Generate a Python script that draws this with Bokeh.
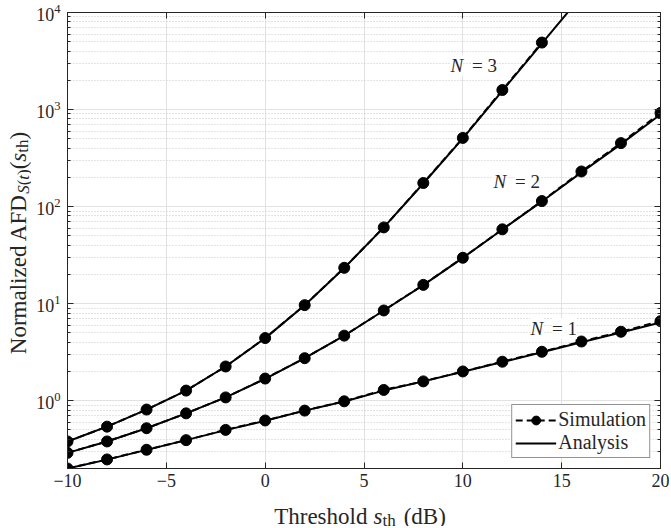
import math
from bokeh.plotting import figure
from bokeh.layouts import row, column
from bokeh.models import (Label, LogAxis, LinearAxis, FixedTicker, Legend,
                          LegendItem, Range1d, CustomJSTickFormatter, Plot)
from bokeh.embed import file_html
from bokeh.resources import INLINE

# ---------------- data ----------------
thresh_db = [-10, -8, -6, -4, -2, 0, 2, 4, 6, 8, 10, 12, 14, 16, 18, 20]

n1_analysis = [0.20, 0.247, 0.311, 0.392, 0.497, 0.62, 0.79, 0.98, 1.27, 1.58,
               1.99, 2.50, 3.15, 4.00, 5.05, 6.40]
n1_simulation = [0.20, 0.248, 0.312, 0.392, 0.50, 0.625, 0.79, 0.985, 1.29, 1.58,
                 2.00, 2.52, 3.19, 4.07, 5.13, 6.60]

n2_analysis = [0.29, 0.38, 0.52, 0.74, 1.08, 1.68, 2.74, 4.67, 8.5, 15.5,
               29.6, 58.0, 113, 225, 440, 890]
n2_simulation = [0.29, 0.38, 0.52, 0.74, 1.08, 1.69, 2.74, 4.68, 8.5, 15.6,
                 29.7, 58.3, 114, 230, 451, 922]

n3_thresh_analysis = [-10, -8, -6, -4, -2, 0, 2, 4, 6, 8, 10, 12, 14, 16]
n3_analysis = [0.38, 0.54, 0.81, 1.27, 2.25, 4.41, 9.6, 23.3, 61, 173,
               505, 1560, 4800, 14800]
n3_thresh_sim = [-10, -8, -6, -4, -2, 0, 2, 4, 6, 8, 10, 12, 14]
n3_simulation = [0.38, 0.54, 0.81, 1.27, 2.25, 4.42, 9.65, 23.4, 61, 175,
                 510, 1590, 4900]

x_ticks = [-10, -5, 0, 5, 10, 15, 20]
y_ticks = [1, 10, 100, 1000, 10000]
y_minor_ticks = [0.2, 0.3, 0.4, 0.5, 0.6, 0.7, 0.8, 0.9,
                 2, 3, 4, 5, 6, 7, 8, 9,
                 20, 30, 40, 50, 60, 70, 80, 90,
                 200, 300, 400, 500, 600, 700, 800, 900,
                 2000, 3000, 4000, 5000, 6000, 7000, 8000, 9000]

curve_names = ["N", "N", "N"]
curve_values = ["= 1", "= 2", "= 3"]

X_MIN, X_MAX = -10, 20
Y_MIN, Y_MAX = 0.2, 1e4

# ---------------- style / layout ----------------
FONT = "Liberation Serif"
INK = "#262626"
YT_W = 31                     # strip holding the y title
FRAME_L, FRAME_R, FRAME_T, FRAME_B = 67, 660, 12, 468   # page pixels
FRAME_W, FRAME_H = FRAME_R - FRAME_L, FRAME_B - FRAME_T
B_LEFT, B_RIGHT, B_TOP, B_BOTTOM = FRAME_L - YT_W, 9, FRAME_T, 32
MAIN_W = B_LEFT + FRAME_W + B_RIGHT
MAIN_H = B_TOP + FRAME_H + B_BOTTOM
XT_H = 26                     # strip holding the x title
PAGE_H = MAIN_H + XT_H


def page_x(px):
    return X_MIN + (px - FRAME_L) * (X_MAX - X_MIN) / (FRAME_R - FRAME_L)


def page_y(py):
    lo, hi = math.log10(Y_MIN), math.log10(Y_MAX)
    return 10 ** (lo + (FRAME_B - py) * (hi - lo) / (FRAME_B - FRAME_T))


p = figure(frame_width=FRAME_W, frame_height=FRAME_H, x_range=Range1d(X_MIN, X_MAX),
           y_range=Range1d(Y_MIN, Y_MAX), y_axis_type="log", title=None,
           output_backend="svg", toolbar_location=None,
           min_border_left=B_LEFT, min_border_right=B_RIGHT,
           min_border_top=B_TOP, min_border_bottom=B_BOTTOM)
p.background_fill_color = "white"
p.border_fill_color = "white"
p.outline_line_color = INK
p.outline_line_width = 1

top_axis = LinearAxis(formatter=CustomJSTickFormatter(code="return ''"))
right_axis = LogAxis(formatter=CustomJSTickFormatter(code="return ''"))
p.add_layout(top_axis, "above")
p.add_layout(right_axis, "right")

for ax in p.xaxis:
    ax.ticker = FixedTicker(ticks=x_ticks)
for ax in p.yaxis:
    ax.ticker = FixedTicker(ticks=y_ticks, minor_ticks=y_minor_ticks)

for ax in list(p.xaxis) + list(p.yaxis):
    ax.axis_line_color = INK
    ax.major_tick_line_color = INK
    ax.minor_tick_line_color = INK
    ax.major_tick_in = 6
    ax.major_tick_out = 0
    ax.minor_tick_in = 3
    ax.minor_tick_out = 0
    ax.axis_label_standoff = 0
    ax.major_label_text_font = FONT
    ax.major_label_text_font_size = "18px"
    ax.major_label_text_color = INK

for ax in p.xaxis:
    ax.minor_tick_line_color = None
p.xaxis[0].major_label_standoff = 8
p.xaxis[0].formatter = CustomJSTickFormatter(code="return tick.toString()")
p.yaxis[0].major_label_standoff = 7

for ax in [top_axis, right_axis]:
    ax.major_label_text_font_size = "1px"
    ax.major_label_text_color = None
    ax.major_label_standoff = 0

p.xgrid.grid_line_color = "#e2e2e2"
p.ygrid.grid_line_color = "#e2e2e2"
p.ygrid.minor_grid_line_color = "#c8c8c8"
p.ygrid.minor_grid_line_dash = "1 2"
p.xgrid.ticker = FixedTicker(ticks=x_ticks)
p.ygrid.ticker = FixedTicker(ticks=y_ticks, minor_ticks=y_minor_ticks)

# ---------------- curves ----------------
series = [
    (thresh_db, n1_analysis, thresh_db, n1_simulation),
    (thresh_db, n2_analysis, thresh_db, n2_simulation),
    (n3_thresh_analysis, n3_analysis, n3_thresh_sim, n3_simulation),
]
sim_line = sim_dots = ana_line = None
for xa, ya, xs, ys in series:
    la = p.line(xa, ya, line_color="black", line_width=2)
    ls = p.line(xs, ys, line_color="black", line_width=2, line_dash="7 4")
    sc = p.scatter(xs, ys, marker="circle", size=11, fill_color="black",
                   line_color="black")
    if ana_line is None:
        ana_line, sim_line, sim_dots = la, ls, sc

legend = Legend(items=[LegendItem(label="Simulation", renderers=[sim_line, sim_dots]),
                       LegendItem(label="Analysis", renderers=[ana_line])],
                location="bottom_right")
legend.label_text_font = FONT
legend.label_text_font_size = "20px"
legend.label_text_color = INK
legend.border_line_color = INK
legend.border_line_width = 1
legend.background_fill_color = "white"
legend.background_fill_alpha = 1
legend.glyph_width = 41
legend.glyph_height = 22
legend.label_height = 22
legend.label_standoff = 2
legend.padding = 3
legend.spacing = 0
legend.margin = 10
p.add_layout(legend)

# ---------------- text helpers ----------------
# Times-compatible advance widths (em)
W = {" ": .25, "(": .333, ")": .333, "=": .564, "-": .333,
     "A": .722, "B": .667, "D": .722, "F": .556, "N": .722, "S": .556, "T": .611,
     "a": .444, "d": .5, "e": .444, "h": .5, "i": .278, "l": .278, "m": .778,
     "n": .5, "o": .5, "r": .333, "s": .389, "t": .278, "z": .444}
WI = {"N": .667, "S": .5, "s": .389, "t": .278}


def text_width(t, size, italic=False):
    tab = WI if italic else W
    return sum(tab.get(c, W.get(c, .5)) for c in t) * size


def make_label(t, x, y, size, italic=False, angle=0.0, bg=False):
    lab = Label(x=x, y=y, text=t, text_font=FONT, text_font_size=f"{size}px",
                text_font_style="italic" if italic else "normal",
                text_color=INK, angle=angle, text_align="left",
                text_baseline="alphabetic")
    if bg:
        lab.background_fill_color = "white"
    return lab


def strip(w, h, x_lo, x_hi):
    return Plot(width=w, height=h, x_range=Range1d(x_lo, x_hi), y_range=Range1d(0, h),
                output_backend="svg", toolbar_location=None, min_border=0,
                min_border_left=0, min_border_right=0, min_border_top=0,
                min_border_bottom=0, title=None, outline_line_color=None,
                background_fill_color="white", border_fill_color="white")


# curve labels N = 1, 2, 3 (inside the plot area)
label_pos = [(530, 328), (493, 181), (450, 65)]
for (lx, ly), nm, val in zip(label_pos, curve_names, curve_values):
    p.add_layout(make_label(val, page_x(lx + 21.5), page_y(ly), 19, bg=True))
    p.add_layout(make_label(nm, page_x(lx), page_y(ly), 19, italic=True, bg=True))

MAIN_SIZE, SUB_SIZE = 23, 17

# x-axis title strip: its frame lines up with the main frame (page pixels)
xf = strip(MAIN_W, XT_H, FRAME_L, FRAME_R)
XT_BASE = 516
x_pieces = [("Threshold", MAIN_SIZE, False, 0, 6), ("s", MAIN_SIZE, True, 0, 0),
            ("th", SUB_SIZE, False, 4, 8), ("(dB)", MAIN_SIZE, False, 0, 0)]
total = sum(text_width(t, s, it) + gap for t, s, it, _, gap in x_pieces)
pos = 359.5 - total / 2
for t, size, it, dy, gap in x_pieces:
    xf.add_layout(make_label(t, pos, PAGE_H - (XT_BASE + dy), size, italic=it))
    pos += text_width(t, size, it) + gap

# y-axis title strip (rotated): Normalized AFD_S(t)(s_th)
yf = strip(YT_W, PAGE_H, 0, YT_W)
YT_BASE = 18
SUB = 5
y_pieces = [("Normalized AFD", MAIN_SIZE, False, 0), ("S", SUB_SIZE, True, SUB),
            ("(", SUB_SIZE, False, SUB), ("t", SUB_SIZE, True, SUB),
            (")", SUB_SIZE, False, SUB), ("(", MAIN_SIZE, False, 0),
            ("s", MAIN_SIZE, True, 0), ("th", SUB_SIZE, False, SUB - 1),
            (")", MAIN_SIZE, False, 0)]
total = sum(text_width(t, s, it) for t, s, it, _ in y_pieces)
pos = 242.5 + total / 2
for t, size, it, shift in y_pieces:
    yf.add_layout(make_label(t, YT_BASE + shift, PAGE_H - pos, size, italic=it,
                             angle=math.pi / 2))
    pos -= text_width(t, size, it)

layout = row(yf, column(p, xf))
open("out.html", "w").write(file_html(layout, INLINE))
